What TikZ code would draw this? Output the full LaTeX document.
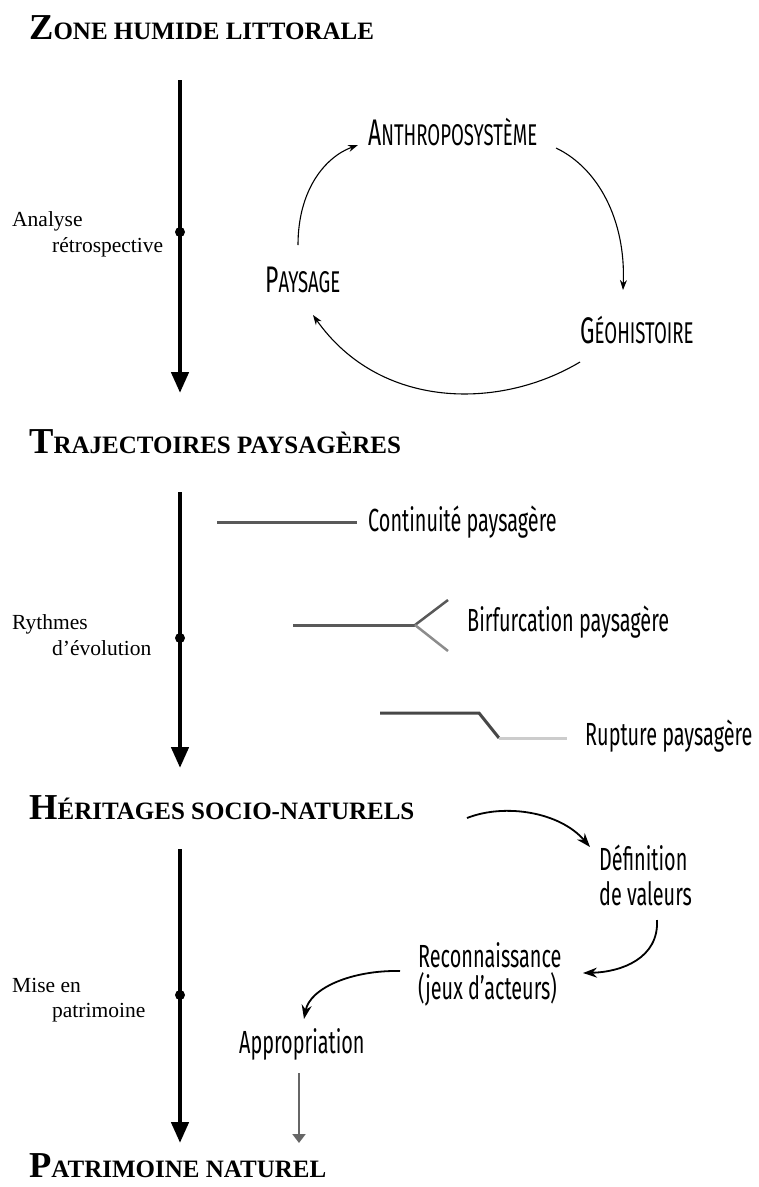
\documentclass[tikz,border=0pt]{standalone}
\usepackage{fontspec}
\setmainfont{Liberation Serif}
\newfontfamily\cond[FakeStretch=0.62]{Fira Sans}
\usetikzlibrary{arrows.meta}
\newcommand\hsc[2]{{\fontsize{36.5}{36.5}\selectfont #1}{\fontsize{25}{25}\selectfont #2}}
\newcommand\condsc[2]{{\fontsize{37}{37}\selectfont #1}{\fontsize{30}{30}\selectfont #2}}
\begin{document}
\begin{tikzpicture}[x=1pt,y=-1pt,
  head/.style={anchor=base west,inner sep=0pt,font=\bfseries},
  side/.style={anchor=base west,inner sep=0pt,font=\fontsize{21.5}{21.5}\selectfont},
  lab/.style={anchor=base west,inner sep=0pt,font=\cond\fontsize{32}{32}\selectfont},
  axis/.style={line width=4.5pt,-{Triangle[length=21pt,width=17pt]}},
  dotn/.style={circle,fill,inner sep=0pt,minimum size=10pt},
  thinarr/.style={line width=1.1pt,-{Stealth[length=10pt,width=7pt]}},
  midarr/.style={line width=1.8pt,-{Stealth[length=14pt,width=10pt]}},
  gline/.style={line width=3pt,draw=#1},
]
\useasboundingbox (0,0) rectangle (759,1187);

% headings
\node[head] (zone) at (29,39) {\hsc{Z}{ONE HUMIDE LITTORALE}};
\node[head] (traj) at (29,453) {\hsc{T}{RAJECTOIRES PAYSAGÈRES}};
\node[head] (herit) at (29,819) {\hsc{H}{ÉRITAGES SOCIO-NATURELS}};
\node[head] (patri) at (29,1177) {\hsc{P}{ATRIMOINE NATUREL}};

% axes
\coordinate (a1s) at (180,80);  \coordinate (a1e) at (180,393);
\coordinate (a2s) at (180,492); \coordinate (a2e) at (180,768);
\coordinate (a3s) at (180,849); \coordinate (a3e) at (180,1143);
\draw[axis] (a1s) -- (a1e);
\draw[axis] (a2s) -- (a2e);
\draw[axis] (a3s) -- (a3e);
\node[dotn] (d1) at (180,232) {};
\node[dotn] (d2) at (180,638) {};
\node[dotn] (d3) at (180,995) {};

% side labels
\node[side] (s1a) at (12,226) {Analyse};
\node[side] (s1b) at (52,252) {rétrospective};
\node[side] (s2a) at (12,629) {Rythmes};
\node[side] (s2b) at (52,655) {d’évolution};
\node[side] (s3a) at (12,992) {Mise en};
\node[side] (s3b) at (52,1017) {patrimoine};

% cycle
\node[lab] (anthro) at (368,145) {\condsc{A}{NTHROPOSYSTÈME}};
\node[lab] (pays) at (265,292) {\condsc{P}{AYSAGE}};
\node[lab] (geo) at (580,343) {\condsc{G}{ÉOHISTOIRE}};
\coordinate (c1s) at (298,245); \coordinate (c1e) at (358,145);
\coordinate (c2s) at (556,148); \coordinate (c2e) at (623,290);
\coordinate (c3s) at (580,362); \coordinate (c3e) at (313,315);
\draw[thinarr] (c1s) .. controls (298,190) and (325,157) .. (c1e);
\draw[thinarr] (c2s) .. controls (598,168) and (626,220) .. (c2e);
\draw[thinarr] (c3s) .. controls (500,410) and (380,410) .. (c3e);

% trajectories
\node[lab] (cont) at (368,531) {Continuité paysagère};
\node[lab] (birf) at (467,631) {Birfurcation paysagère};
\node[lab] (rupt) at (585,745) {Rupture paysagère};
\draw[gline=black!65] (217,522) -- (357,522);
\draw[gline=black!65] (293,625) -- (415,625);
\draw[line width=2.5pt,draw=black!65] (415,625) -- (448,600);
\draw[line width=2.5pt,draw=black!45] (415,625) -- (448,651);
\draw[gline=black!72,line join=miter] (380,713) -- (479,713) -- (499,738);
\draw[gline=black!20] (499,738) -- (567,738);

% heritage chain
\node[lab] (defa) at (599,870) {Définition};
\node[lab] (defb) at (599,905) {de valeurs};
\node[lab] (reca) at (418,967) {Reconnaissance};
\node[lab] (recb) at (418,999) {(jeux d’acteurs)};
\node[lab] (appr) at (239,1053) {Appropriation};
\coordinate (h1s) at (467,818); \coordinate (h1e) at (590,847);
\coordinate (h2s) at (657,920); \coordinate (h2e) at (583,973);
\coordinate (h3s) at (400,971); \coordinate (h3e) at (304,1019);
\coordinate (h4s) at (299,1073); \coordinate (h4e) at (299,1143);
\draw[midarr] (h1s) .. controls (505,803) and (560,812) .. (h1e);
\draw[midarr] (h2s) .. controls (659,958) and (622,972) .. (h2e);
\draw[midarr] (h3s) .. controls (352,970) and (310,988) .. (h3e);
\draw[line width=2pt,draw=black!60,-{Triangle[length=9pt,width=13pt]}] (h4s) -- (h4e);
\end{tikzpicture}
\end{document}
